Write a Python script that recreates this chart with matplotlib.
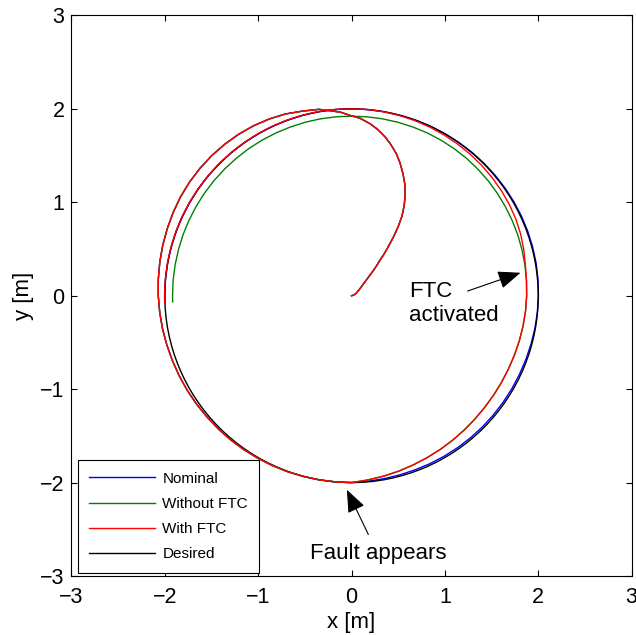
import numpy as np
import matplotlib
matplotlib.use("Agg")
import matplotlib.pyplot as plt
from matplotlib.patches import Circle
from matplotlib.lines import Line2D

plt.rcParams['font.family'] = ['Liberation Sans', 'DejaVu Sans']

# ---------------- data ----------------
# shared start: spiral from the origin to the circle (x, y in m)
spiral_x = [0.00, 0.02, 0.05, 0.09, 0.13, 0.175, 0.22, 0.265, 0.305, 0.345,
            0.38, 0.415, 0.45, 0.50, 0.54, 0.565, 0.575, 0.57, 0.55, 0.52,
            0.48, 0.42, 0.36, 0.28, 0.20, 0.09, -0.015, -0.12, -0.23, -0.35]
spiral_y = [0.00, 0.005, 0.025, 0.075, 0.13, 0.19, 0.25, 0.315, 0.38, 0.44,
            0.50, 0.565, 0.63, 0.74, 0.85, 0.97, 1.09, 1.20, 1.31, 1.42,
            1.52, 1.62, 1.70, 1.78, 1.84, 1.90, 1.93, 1.965, 1.98, 1.995]

# shared first lap before the fault (polar: angle in deg, radius in m)
lap_angle = [105, 110, 115, 120, 125, 130, 135, 140, 145, 150, 155, 160, 165,
             170, 175, 180, 185, 190, 195, 200, 205, 210, 215, 220, 225, 230,
             235, 240, 245, 250, 255, 260, 265]
lap_radius = [2.045, 2.07, 2.087, 2.10, 2.109, 2.115, 2.119, 2.12, 2.119,
              2.115, 2.108, 2.10, 2.093, 2.085, 2.077, 2.07, 2.062, 2.055,
              2.047, 2.04, 2.035, 2.03, 2.025, 2.02, 2.017, 2.014, 2.011,
              2.008, 2.006, 2.004, 2.002, 2.001, 2.0]

# after the fault (angle continues past 360 deg on the second lap)
post_angle = [270, 275, 280, 285, 290, 295,
              300, 305, 310, 315, 320, 325, 330, 335, 340, 345,
              350, 355, 360, 365, 370, 375, 380, 385, 390, 395,
              400, 405, 410, 415, 420, 425, 430, 435, 440, 445,
              450, 455, 460, 465, 470, 475, 480, 485, 490, 495,
              500, 505, 510, 515, 520, 525, 530, 535, 540, 542]
nominal_radius = [2.0, 1.994, 1.989, 1.986, 1.984, 1.984,
                  1.984, 1.984, 1.984, 1.984, 1.984, 1.984, 1.985, 1.986, 1.988, 1.991,
                  1.995, 1.998, 2.002, 2.005, 2.008, 2.009, 2.01, 2.01, 2.009, 2.008,
                  2.007, 2.006, 2.005, 2.004, 2.003, 2.002, 2.001, 2.0, 2.0, 2.0,
                  2.0, 2.0, 2.0, 2.0, 2.0, 2.0, 2.0, 2.0, 2.0, 2.0,
                  2.0, 2.0, 2.0, 2.0, 2.0, 2.0, 2.0, 2.0, 2.0, 2.0]
without_radius = [2.0, 1.98, 1.962, 1.945, 1.928, 1.913,
                  1.90, 1.888, 1.877, 1.868, 1.861, 1.857, 1.855, 1.855, 1.857, 1.861,
                  1.866, 1.871, 1.876, 1.881, 1.886, 1.891, 1.896, 1.90, 1.904, 1.908,
                  1.912, 1.915, 1.918, 1.92, 1.921, 1.922, 1.922, 1.922, 1.922, 1.922,
                  1.922, 1.922, 1.922, 1.922, 1.921, 1.921, 1.921, 1.921, 1.92, 1.92,
                  1.92, 1.92, 1.919, 1.919, 1.919, 1.918, 1.918, 1.918, 1.917, 1.917]
with_radius = [2.0, 1.98, 1.962, 1.945, 1.928, 1.913,
               1.90, 1.888, 1.877, 1.868, 1.861, 1.857, 1.855, 1.855, 1.857, 1.861,
               1.866, 1.871, 1.876, 1.881, 1.891, 1.91, 1.928, 1.942, 1.952, 1.96,
               1.966, 1.972, 1.977, 1.982, 1.986, 1.99, 1.993, 1.996, 1.998, 2.0,
               2.001, 2.002, 2.003, 2.003, 2.003, 2.003, 2.003, 2.003, 2.003, 2.003,
               2.003, 2.003, 2.003, 2.003, 2.003, 2.003, 2.003, 2.003, 2.003, 2.003]

desired_center = (0.0, 0.0)
desired_radius = 2.0

labels = ["Nominal", "Without FTC", "With FTC", "Desired"]
colors = ["#0000ff", "#008000", "#ff0000", "#000000"]
ticks = [-3, -2, -1, 0, 1, 2, 3]


def polar_xy(angle, radius):
    a = np.deg2rad(np.asarray(angle, float))
    r = np.asarray(radius, float)
    return r * np.cos(a), r * np.sin(a)


def full_path(post_radius):
    lx, ly = polar_xy(lap_angle, lap_radius)
    px, py = polar_xy(post_angle, post_radius)
    return (np.concatenate([spiral_x, lx, px]),
            np.concatenate([spiral_y, ly, py]))


# ---------------- figure ----------------
fig = plt.figure(figsize=(6.36, 6.35), dpi=100)
ax = fig.add_axes([0.1123, 0.0929, 0.8808, 0.8828])

lw = 1.0
ax.add_patch(Circle(desired_center, desired_radius, fill=False,
                    edgecolor=colors[3], lw=lw, zorder=2.5))
for rad, c, z in [(nominal_radius, colors[0], 2),
                  (without_radius, colors[1], 3),
                  (with_radius, colors[2], 4)]:
    x, y = full_path(rad)
    ax.plot(x, y, color=c, lw=lw, zorder=z, solid_joinstyle='round')

ax.set_xlim(-3, 3)
ax.set_ylim(-3, 3)
ax.set_xticks(ticks)
ax.set_yticks(ticks)
ax.tick_params(direction='in', length=4.5, width=0.8, top=True, right=True,
               labelsize=15.5, colors='k')
ax.tick_params(axis='x', pad=8)
ax.tick_params(axis='y', pad=5)
for s in ax.spines.values():
    s.set_linewidth(0.8)
ax.set_xlabel("x [m]", fontsize=16, labelpad=3)
ax.set_ylabel("y [m]", fontsize=16, labelpad=4)

handles = [Line2D([], [], color=c, lw=lw) for c in colors]
leg = ax.legend(handles, labels, loc='lower left',
                bbox_to_anchor=(0.011, 0.006), borderaxespad=0,
                fontsize=11, handlelength=4.3, handletextpad=0.5,
                labelspacing=0.73, borderpad=0.75, fancybox=False,
                framealpha=1, edgecolor='k')
leg.get_frame().set_linewidth(0.8)
leg.set_zorder(10)

arrow = dict(arrowstyle='-|>,head_length=0.7,head_width=0.28', color='k',
             lw=0.8, mutation_scale=20, shrinkA=0, shrinkB=0)
ax.annotate("", xy=(1.81, 0.246), xytext=(1.243, 0.05), arrowprops=arrow)
ax.annotate("", xy=(-0.05, -2.077), xytext=(0.18, -2.555), arrowprops=arrow)
ax.text(0.617, -0.266, "FTC\nactivated", fontsize=16, ha='left',
        va='baseline', linespacing=1.13)
ax.text(-0.44, -2.823, "Fault appears", fontsize=16, ha='left',
        va='baseline')

fig.savefig("out.png", dpi=100)
